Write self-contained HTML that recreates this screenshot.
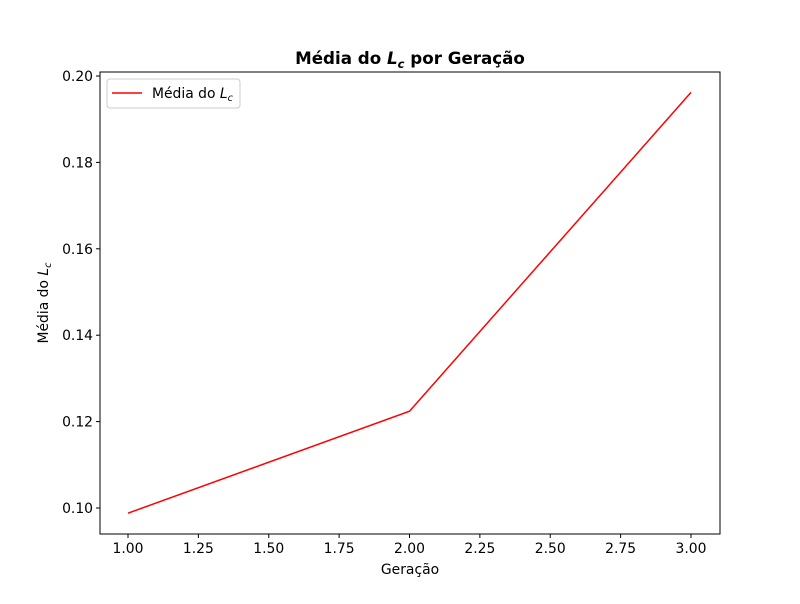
<!DOCTYPE html>
<html><head><meta charset="utf-8"><style>
body{margin:0;background:#fff;font-family:"DejaVu Sans","Liberation Sans",sans-serif;}
svg text{font-family:"DejaVu Sans","Liberation Sans",sans-serif;}
</style></head><body>
<svg id="chart" width="800" height="600" xmlns="http://www.w3.org/2000/svg">
<rect width="800" height="600" fill="#fff"/>
<g id="axes"></g>
</svg>
<script>
const xValues=[1,2,3];
const yValues=[0.0988,0.1224,0.1962];
const xTicks=[1.00,1.25,1.50,1.75,2.00,2.25,2.50,2.75,3.00];
const yTicks=[0.10,0.12,0.14,0.16,0.18,0.20];
const L=100,R=720,T=72,B=534;
function sx(v){return 128+(v-1)*281.5;}
function sy(v){return 508-(v-0.10)*4320;}
const ns="http://www.w3.org/2000/svg";
const g=document.getElementById('axes');
function el(t,a,p){const e=document.createElementNS(ns,t);for(const k in a)e.setAttribute(k,a[k]);(p||g).appendChild(e);return e;}
const frame=el('rect',{x:L,y:T,width:R-L,height:B-T,fill:'none',stroke:'#000','stroke-width':1});


xTicks.forEach(v=>{const x=sx(v);
el('line',{x1:x,y1:B,x2:x,y2:B+4,stroke:'#000'});
const t=el('text',{x:x,y:B+19,'text-anchor':'middle','font-size':13.9});t.textContent=v.toFixed(2);

});
yTicks.forEach(v=>{const y=sy(v);
el('line',{x1:L-4,y1:y,x2:L,y2:y,stroke:'#000'});
const t=el('text',{x:L-7,y:y+5,'text-anchor':'end','font-size':13.9});t.textContent=v.toFixed(2);

});
const line=el('polyline',{points:xValues.map((v,i)=>sx(v)+','+sy(yValues[i])).join(' '),fill:'none',stroke:'#ff0000','stroke-width':1.5});


</script>
<svg width="800" height="600" style="position:absolute;left:0;top:0" xmlns="http://www.w3.org/2000/svg">
<text x="410" y="64" text-anchor="middle" font-size="16.7" font-weight="bold">Média do <tspan font-style="italic">L</tspan><tspan font-style="italic" font-size="11.5" dy="4">c</tspan><tspan dy="-4"> por Geração</tspan></text>
<text x="410" y="574" text-anchor="middle" font-size="13.9">Geração</text>
<text transform="translate(48,303) rotate(-90)" text-anchor="middle" font-size="13.9">Média do <tspan font-style="italic">L</tspan><tspan font-style="italic" font-size="9.7" dy="3">c</tspan></text>
<g>
<rect x="107" y="79" width="133" height="29" rx="3" fill="#fff" stroke="#ccc"/>
<line x1="112" y1="93" x2="142" y2="93" stroke="#ff0000" stroke-width="1.5"/>
<text x="152" y="98" font-size="13.9">Média do <tspan font-style="italic">L</tspan><tspan font-style="italic" font-size="9.7" dy="3">c</tspan></text>
</g>
</svg>
</body></html>
